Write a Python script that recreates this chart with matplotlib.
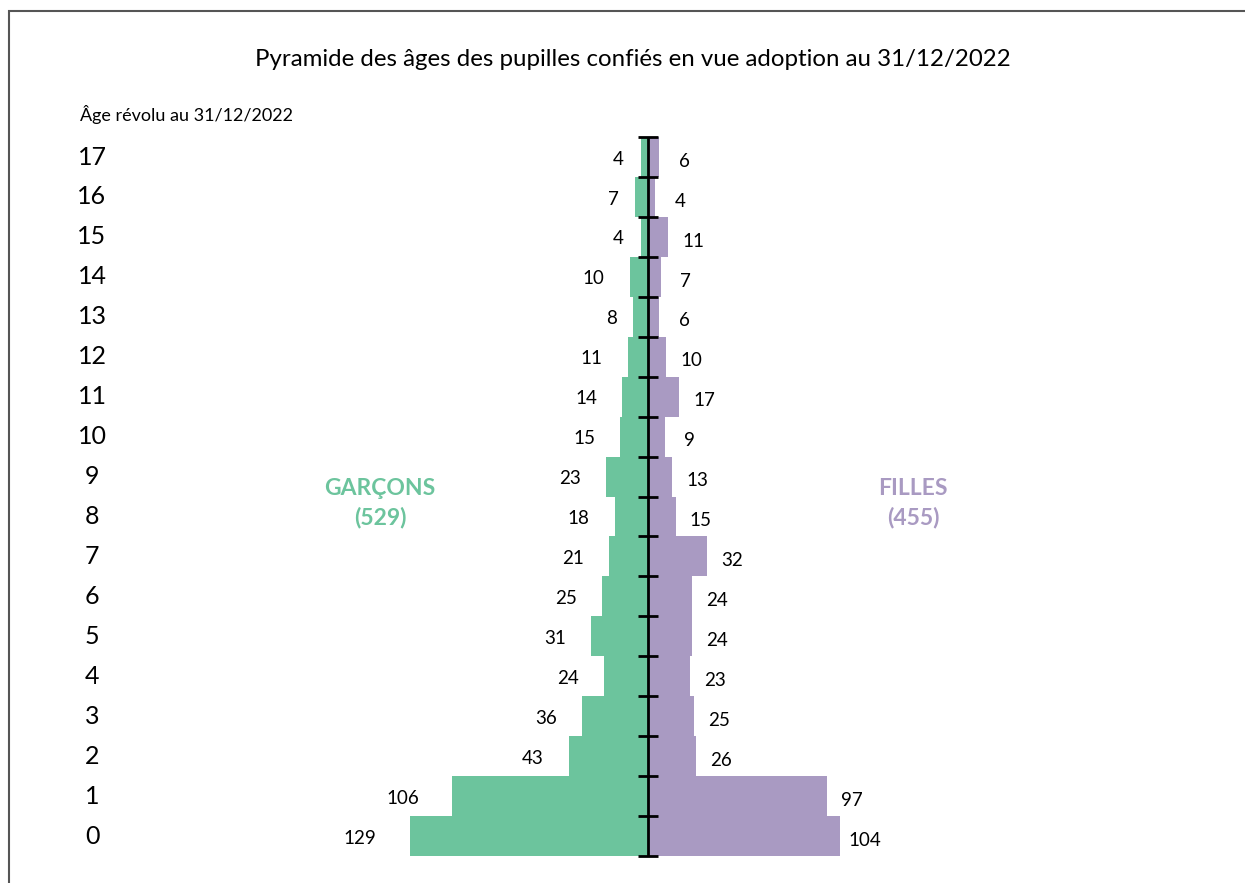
import matplotlib
matplotlib.use("Agg")
import matplotlib.pyplot as plt
from matplotlib.patches import Rectangle
import matplotlib.transforms as mtransforms

ages = list(range(18))
garcons = [129, 106, 43, 36, 24, 31, 25, 21, 18, 23, 15, 14, 11, 8, 10, 4, 7, 4]
filles = [104, 97, 26, 25, 23, 24, 24, 32, 15, 13, 9, 17, 10, 6, 7, 11, 4, 6]
total_garcons = 529
total_filles = 455
title = "Pyramide des âges des pupilles confiés en vue adoption au 31/12/2022"
age_title = "Âge révolu au 31/12/2022"

GREEN = "#6CC49D"
PURPLE = "#A99AC2"

plt.rcParams['font.family'] = ['Lato', 'DejaVu Sans']

W, H = 1245, 883
fig = plt.figure(figsize=(W / 100, H / 100), dpi=100)
ax = fig.add_axes([0, 0, 1, 1])
ax.set_axis_off()

# pixel geometry -> data limits
cx = 648.0
scale = 1.845  # px per unit
row = 39.94
y0px = 836.0   # centre of age 0
ax.set_xlim(-cx / scale, (W - cx) / scale)
ax.set_ylim(-(H - y0px) / row, y0px / row)

ax.barh(ages, [-g for g in garcons], height=1.0, color=GREEN, linewidth=0)
ax.barh(ages, filles, height=1.0, color=PURPLE, linewidth=0)

# central axis with ticks
ax.plot([0, 0], [-0.5, len(ages) - 0.5], color="black", lw=2, solid_capstyle="butt")
tick = 10 / scale
for k in range(len(ages) + 1):
    ax.plot([-tick, tick], [k - 0.5, k - 0.5], color="black", lw=2, solid_capstyle="butt")

# value labels
for a, g, f in zip(ages, garcons, filles):
    n = len(str(g))
    ax.annotate(str(g), (-g, a), xytext=(-(6 + 6 * n), -1.5), textcoords="offset points",
                ha="right", va="center", fontsize=13.5, color="black")
    ax.annotate(str(f), (f, a), xytext=(18, -3), textcoords="offset points",
                ha="center", va="center", fontsize=13.5, color="black")

# age labels
trans = mtransforms.blended_transform_factory(fig.transFigure, ax.transData)
for a in ages:
    ax.text(92 / W, a, str(a), transform=trans, ha="center", va="center", fontsize=18)

fig.text(80 / W, 1 - 115 / H, age_title, ha="left", va="center", fontsize=13)
fig.text(633 / W, 1 - 60 / H, title, ha="center", va="center", fontsize=17.3)

fig.text(380 / W, 1 - 503 / H, f"GARÇONS\n({total_garcons})", ha="center", va="center",
         fontsize=16.5, fontweight="bold", color=GREEN, linespacing=1.45)
fig.text(913 / W, 1 - 503 / H, f"FILLES\n({total_filles})", ha="center", va="center",
         fontsize=16.5, fontweight="bold", color=PURPLE, linespacing=1.45)

# frame
fig.patches.append(Rectangle((9 / W, -0.1), 1.2, 1 - 11 / H + 0.1, transform=fig.transFigure,
                             fill=False, edgecolor="#555555", lw=1.5))

fig.savefig("out.png", dpi=100)
